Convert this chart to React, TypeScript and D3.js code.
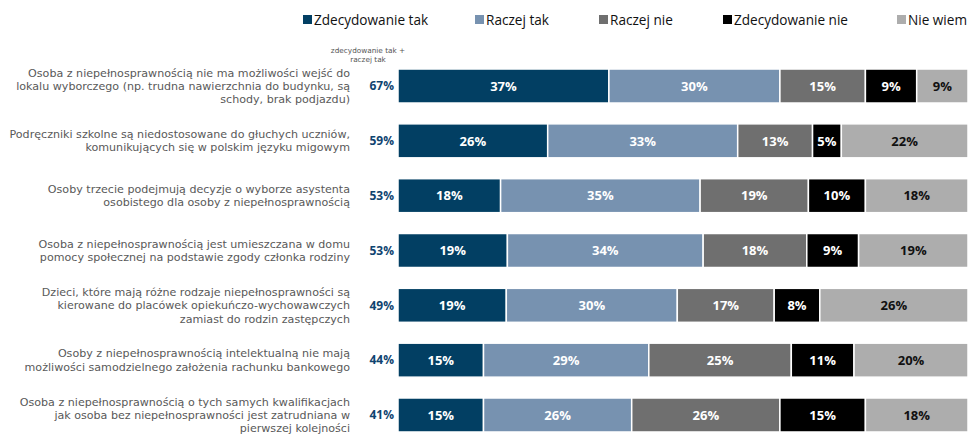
import React from "react";
import * as d3 from "d3";

const categories: string[][] = [
  ["Osoba z niepełnosprawnością nie ma możliwości wejść do", "lokalu wyborczego (np. trudna nawierzchnia do budynku, są", "schody, brak podjazdu)"],
  ["Podręczniki szkolne są niedostosowane do głuchych uczniów,", "komunikujących się w polskim języku migowym"],
  ["Osoby trzecie podejmują decyzje o wyborze asystenta", "osobistego dla osoby z niepełnosprawnością"],
  ["Osoba z niepełnosprawnością jest umieszczana w domu", "pomocy społecznej na podstawie zgody członka rodziny"],
  ["Dzieci, które mają różne rodzaje niepełnosprawności są", "kierowane do placówek opiekuńczo-wychowawczych", "zamiast do rodzin zastępczych"],
  ["Osoby z niepełnosprawnością intelektualną nie mają", "możliwości samodzielnego założenia rachunku bankowego"],
  ["Osoba z niepełnosprawnością o tych samych kwalifikacjach", "jak osoba bez niepełnosprawności jest zatrudniana w", "pierwszej kolejności"],
];

const seriesNames = ["Zdecydowanie tak", "Raczej tak", "Raczej nie", "Zdecydowanie nie", "Nie wiem"];
const zdecydowanieTak = [37, 26, 18, 19, 19, 15, 15];
const raczejTak = [30, 33, 35, 34, 30, 29, 26];
const raczejNie = [15, 13, 19, 18, 17, 25, 26];
const zdecydowanieNie = [9, 5, 10, 9, 8, 11, 15];
const nieWiem = [9, 22, 18, 19, 26, 20, 18];
const sumTak = [67, 59, 53, 53, 49, 44, 41];

const colors = ["#023f63", "#7792b0", "#6f6f6f", "#000000", "#adadad"];
const labelColors = ["#ffffff", "#ffffff", "#ffffff", "#ffffff", "#111111"];

const W = 968;
const H = 434;

export default function App() {
  const series = [zdecydowanieTak, raczejTak, raczejNie, zdecydowanieNie, nieWiem];
  const ids = categories.map((_, i) => String(i));
  const rows = ids.map((id, i) => {
    const r: any = { id };
    seriesNames.forEach((s, k) => (r[s] = series[k][i]));
    return r;
  });
  const stacked = d3.stack<any>().keys(seriesNames)(rows);

  const y = d3.scaleBand().domain(ids).range([58.6, 442.4]).paddingInner(0.38).paddingOuter(0.19);

  const barX0 = 398;
  const barX1 = 968;
  const xFor = (i: number) => {
    const total = d3.sum(series, (s) => s[i]);
    return d3.scaleLinear().domain([0, total]).range([barX0, barX1]);
  };

  const legendX = [303, 475, 599, 723, 897];

  return (
    <svg width={W} height={H} style={{ position: "absolute", left: 0, top: 0, background: "#fff" }}>
      {seriesNames.map((s, k) => (
        <g key={s}>
          <rect x={legendX[k]} y={15} width={9} height={9} fill={colors[k]} />
          <text x={legendX[k] + 11} y={24.5} fontFamily="'Open Sans', sans-serif" fontSize={13.6} fill="#111">
            {s}
          </text>
        </g>
      ))}
      <text x={368} y={53} textAnchor="middle" fontFamily="'DejaVu Sans', sans-serif" fontSize={7.3} fill="#555">
        zdecydowanie tak +
      </text>
      <text x={368} y={62} textAnchor="middle" fontFamily="'DejaVu Sans', sans-serif" fontSize={7.3} fill="#555">
        raczej tak
      </text>
      {categories.map((lines, i) => {
        const cy = (y(ids[i]) as number) + y.bandwidth() / 2;
        const lh = 13.3;
        const start = cy - ((lines.length - 1) * lh) / 2;
        return (
          <g key={i}>
            {lines.map((ln, j) => (
              <text
                key={j}
                x={350}
                y={start + j * lh}
                dy="0.35em"
                textAnchor="end"
                fontFamily="'DejaVu Sans', sans-serif"
                fontSize={11.1}
                fill="#595959"
              >
                {ln}
              </text>
            ))}
            <text
              x={394}
              y={cy}
              dy="0.35em"
              textAnchor="end"
              fontFamily="'Open Sans', sans-serif"
              fontWeight="bold"
              fontSize={12}
              fill="#0f4470"
            >
              {sumTak[i]}%
            </text>
          </g>
        );
      })}
      {stacked.map((layer, k) => (
        <g key={layer.key}>
          {layer.map((d, i) => {
            const x = xFor(i);
            const x0 = x(d[0]);
            const x1 = x(d[1]);
            const top = y(ids[i]) as number;
            return (
              <g key={i}>
                <rect
                  x={x0}
                  y={top}
                  width={x1 - x0}
                  height={y.bandwidth()}
                  fill={colors[k]}
                  stroke="#fff"
                  strokeWidth={1.5}
                />
                <text
                  x={(x0 + x1) / 2}
                  y={top + y.bandwidth() / 2}
                  dy="0.36em"
                  textAnchor="middle"
                  fontFamily="'Open Sans', sans-serif"
                  fontWeight="bold"
                  fontSize={13}
                  fill={labelColors[k]}
                >
                  {series[k][i]}%
                </text>
              </g>
            );
          })}
        </g>
      ))}
    </svg>
  );
}
